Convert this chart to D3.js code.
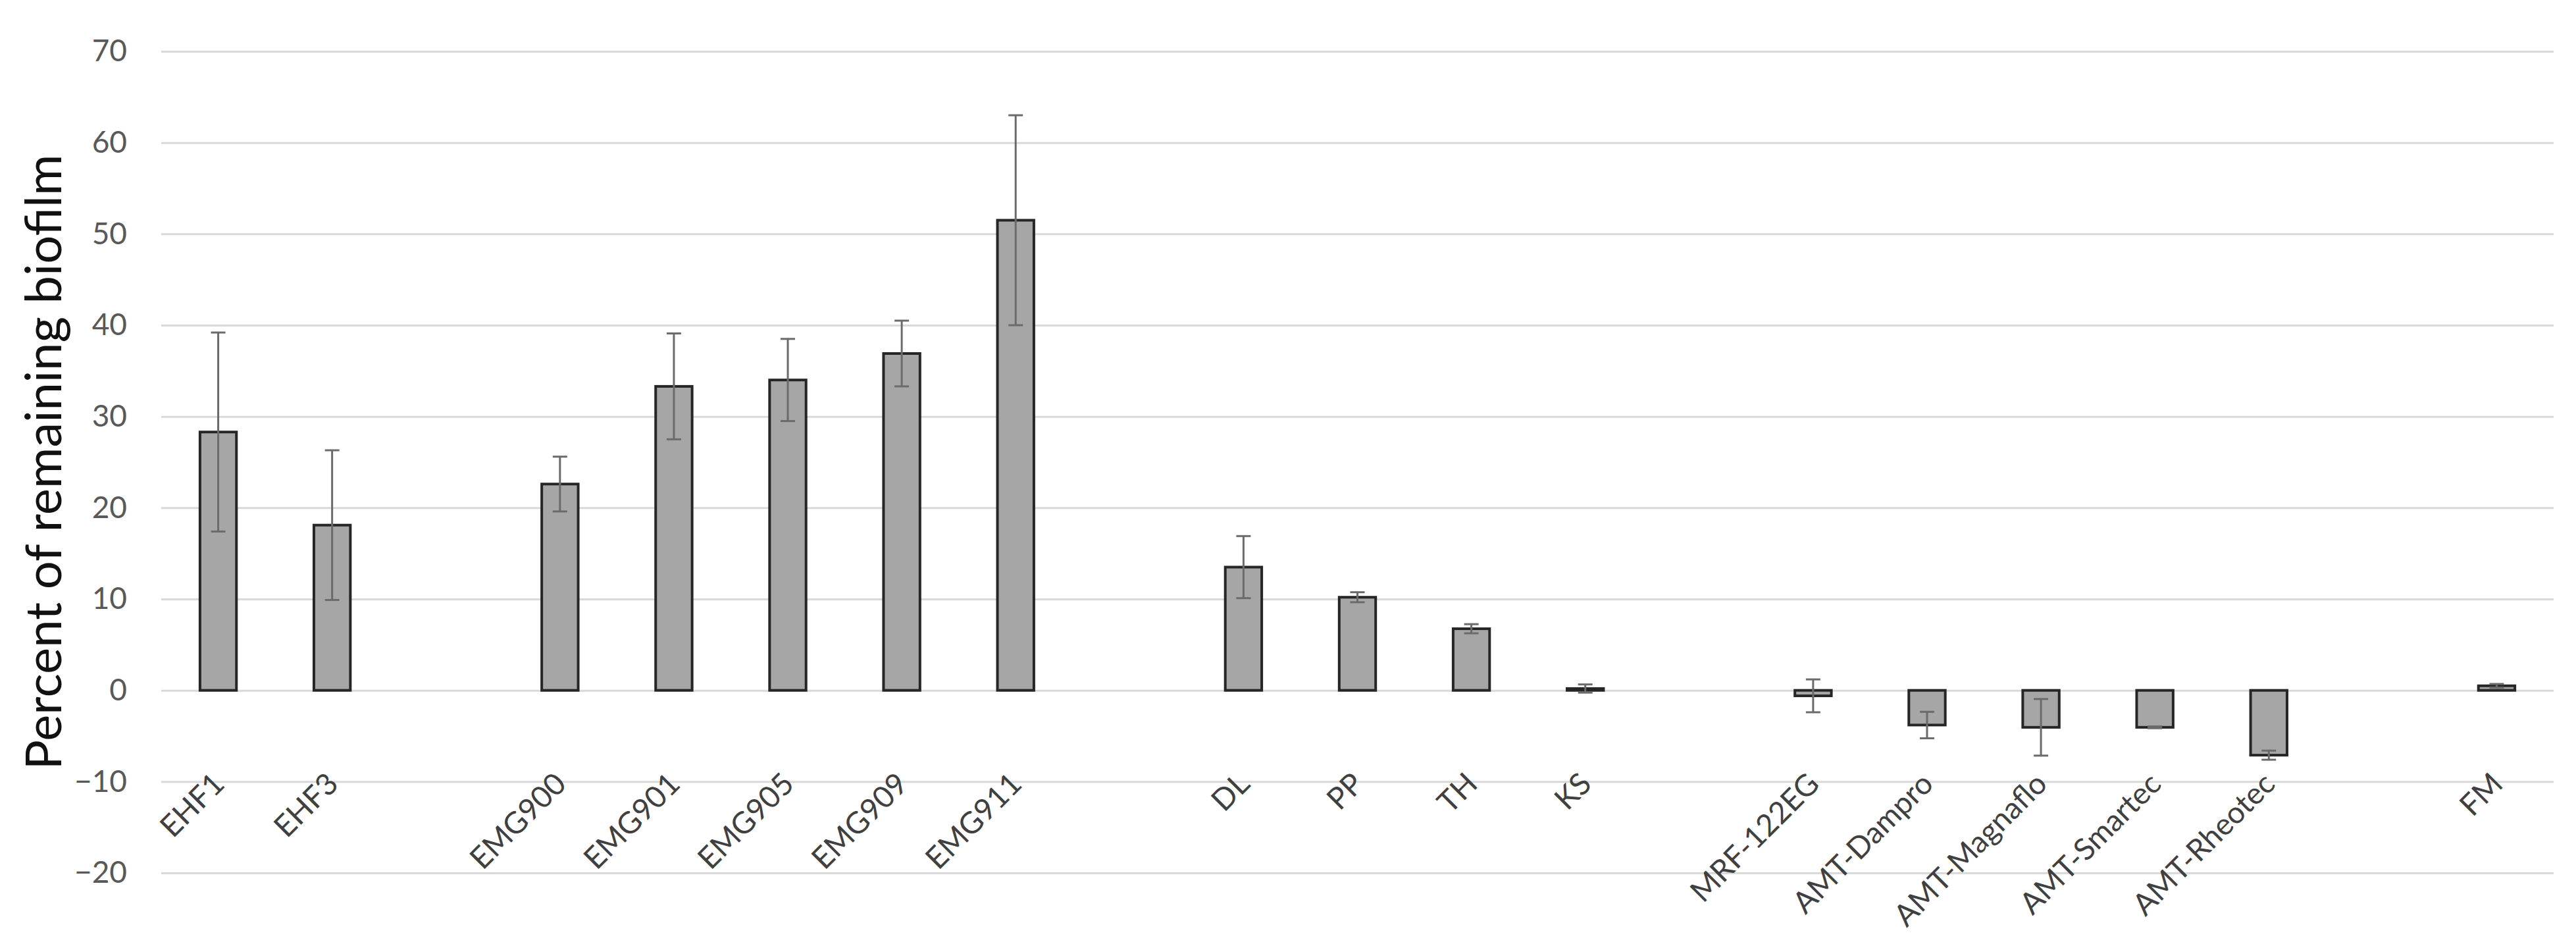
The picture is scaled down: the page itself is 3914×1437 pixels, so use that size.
<!DOCTYPE html>
<html>
<head>
<meta charset="utf-8">
<script src="https://cdn.jsdelivr.net/npm/d3@7"></script>
<style>
  body { margin: 0; background: #fff; }
  text { font-family: Lato, "Open Sans", sans-serif; }
</style>
</head>
<body>
<div id="root"></div>
<script>
// Chart data ("" = empty slot between groups)
const categories = [
  "EHF1", "EHF3", "",
  "EMG900", "EMG901", "EMG905", "EMG909", "EMG911", "",
  "DL", "PP", "TH", "KS", "",
  "MRF-122EG", "AMT-Dampro", "AMT-Magnaflo", "AMT-Smartec", "AMT-Rheotec", "",
  "FM",
];
const values = [
  28.3, 18.1, null,
  22.6, 33.3, 34.0, 36.9, 51.5, null,
  13.5, 10.2, 6.75, 0.2, null,
  -0.6, -3.8, -4.05, -4.05, -7.1, null,
  0.5,
];
const errors = [
  10.9, 8.2, null,
  3.0, 5.8, 4.5, 3.6, 11.5, null,
  3.4, 0.55, 0.5, 0.45, null,
  1.8, 1.45, 3.1, 0.1, 0.5, null,
  0.2,
];
const yTicks = [-20, -10, 0, 10, 20, 30, 40, 50, 60, 70];
const yTitle = "Percent of remaining biofilm";

function drawChart() {
  const fullWidth = 3914;
  const fullHeight = 1437;
  const plot = { left: 245, right: 3880, top: 78, bottom: 1326 };

  const svg = d3
    .select("#root")
    .append("svg")
    .attr("width", fullWidth)
    .attr("height", fullHeight)
    .style("background", "#fff");

  // Scales
  const xScale = d3
    .scaleBand()
    .domain(d3.range(categories.length))
    .range([plot.left, plot.right])
    .paddingInner(0.68)
    .paddingOuter(0.34);
  const yScale = d3.scaleLinear().domain([-20, 70]).range([plot.bottom, plot.top]);

  // Y axis with gridlines
  const yAxis = d3
    .axisLeft(yScale)
    .tickValues(yTicks)
    .tickSize(-(plot.right - plot.left))
    .tickPadding(52)
    .tickFormat(d3.format("d"));

  const yAxisG = svg
    .append("g")
    .attr("transform", `translate(${plot.left},0)`)
    .call(yAxis);
  yAxisG.select(".domain").remove();
  yAxisG.selectAll("line").attr("stroke", "#d9d9d9").attr("stroke-width", 3);
  yAxisG
    .selectAll("text")
    .attr("fill", "#595959")
    .style("font-size", "46px");

  // Y axis title
  svg
    .append("text")
    .attr("transform", `translate(93, ${(plot.top + plot.bottom) / 2}) rotate(-90)`)
    .attr("text-anchor", "middle")
    .style("font-size", "76px")
    .attr("fill", "#111")
    .text(yTitle);

  // Bars
  const idx = d3.range(categories.length).filter((i) => values[i] !== null);

  svg
    .append("g")
    .selectAll("rect")
    .data(idx)
    .enter()
    .append("rect")
    .attr("x", (i) => xScale(i))
    .attr("width", xScale.bandwidth())
    .attr("y", (i) => yScale(Math.max(values[i], 0)))
    .attr("height", (i) => Math.abs(yScale(values[i]) - yScale(0)))
    .attr("fill", "#a6a6a6")
    .attr("stroke", "#262626")
    .attr("stroke-width", 4);

  // Error bars
  const capHalf = 11;
  const errG = svg
    .append("g")
    .attr("stroke", "#6b6b6b")
    .attr("stroke-width", 3);

  idx.forEach((i) => {
    const cx = xScale(i) + xScale.bandwidth() / 2;
    const lo = yScale(values[i] - errors[i]);
    const hi = yScale(values[i] + errors[i]);
    errG.append("line").attr("x1", cx).attr("x2", cx).attr("y1", lo).attr("y2", hi);
    errG.append("line").attr("x1", cx - capHalf).attr("x2", cx + capHalf).attr("y1", lo).attr("y2", lo);
    errG.append("line").attr("x1", cx - capHalf).attr("x2", cx + capHalf).attr("y1", hi).attr("y2", hi);
  });

  // Category labels
  const xAxis = d3
    .axisBottom(xScale)
    .tickSize(0)
    .tickFormat((i) => categories[i]);

  const xAxisG = svg
    .append("g")
    .attr("transform", `translate(0, ${yScale(0)})`)
    .call(xAxis);
  xAxisG.select(".domain").remove();
  xAxisG
    .selectAll("text")
    .attr("y", 0)
    .attr("dy", 0)
    .attr("transform", "translate(12, 145) rotate(-45)")
    .attr("text-anchor", "end")
    .attr("fill", "#404040")
    .style("font-size", "46px");
}

drawChart();
</script>
</body>
</html>
